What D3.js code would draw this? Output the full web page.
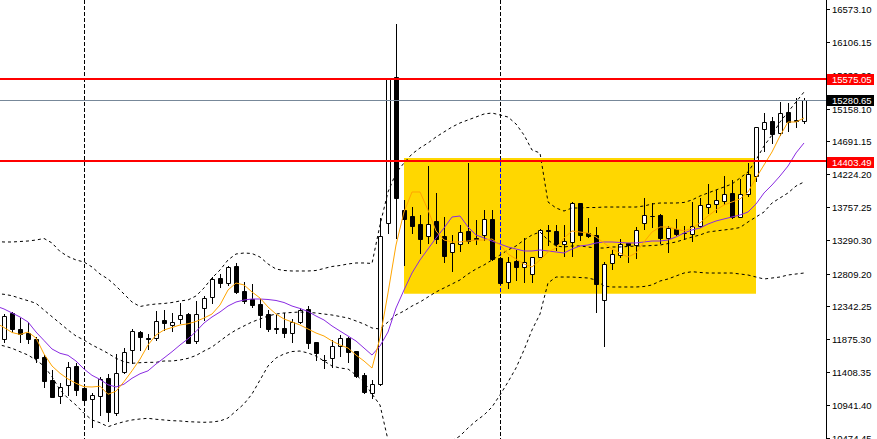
<!DOCTYPE html>
<html>
<head>
<meta charset="utf-8">
<script src="https://cdn.jsdelivr.net/npm/d3@7"></script>
<style>
    html, body { margin: 0; padding: 0; background: #fff; }
    svg { display: block; }
    .price-label { font-family: "Liberation Sans", Arial, sans-serif; font-size: 9.5px; }
</style>
</head>
<body>
<div id="chart"></div>
<script>
// candles, one per bar (bar 0 .. 100)
var opens = [
    11873,12243,12020,11967,11877,11617,11293,11061,11218,11493,
    11175,11019,11061,11322,10823,11403,11721,11973,11887,11892,
    12148,12081,12167,12234,11849,12315,12471,12742,12671,12921,
    12561,12443,12372,12229,12030,12038,11959,12124,12305,11830,
    11583,11603,11782,11892,11707,11365,11113,11232,13525,15613,
    13715,13634,13515,13349,13562,13349,13121,13226,13416,13312,
    13354,13587,13031,12685,12988,12899,12799,13050,13425,13416,
    13226,13255,13810,13383,13359,12426,12956,13074,13238,13216,
    13525,13629,13644,13312,13440,13391,13373,13487,13762,13796,
    13847,13953,13619,13938,14203,14868,14982,14807,15106,14997,
    14987];
var highs = [
    12234,12266,12172,12124,11910,11650,11436,11255,11554,11531,
    11198,11104,11340,11375,11660,11745,12020,11996,11944,12276,
    12290,12243,12386,12252,12423,12494,12765,12803,12917,12956,
    12689,12661,12447,12290,12229,12252,12162,12315,12347,11839,
    11650,11863,11934,11910,11707,11389,11293,13597,15580,16364,
    13857,13762,13644,14341,13961,13619,13359,13501,14388,13572,
    13715,13715,13050,13050,13145,13312,13050,13440,13501,13501,
    13501,13833,13819,13597,13468,12970,13145,13297,13249,13477,
    13890,13810,13658,13487,13582,13491,13833,13881,14085,14000,
    14199,14142,14152,14380,14901,15092,15044,15257,15243,15306,
    15306];
var lows = [
    11835,11981,11839,11816,11546,11198,11050,10962,11084,11084,
    10937,10620,10795,10714,10795,11389,11540,11721,11731,11863,
    12006,11996,12101,11815,11816,12148,12386,12622,12647,12537,
    12386,12337,12053,11991,11959,11910,11839,12110,11745,11578,
    11460,11483,11640,11554,11340,11113,11033,11225,13383,13312,
    12931,13391,13098,13249,13240,12978,12850,13131,13240,13226,
    13287,13003,12661,12600,12718,12694,12685,13041,13216,13145,
    13060,13064,13287,13334,12266,11782,12874,13041,12978,13027,
    13440,13477,13249,13121,13359,13297,13277,13477,13668,13691,
    13796,13605,13611,13914,14132,14559,14665,14783,14844,14901,
    14958];
var closes = [
    12205,12024,11944,11877,11611,11284,11056,11198,11483,11155,
    11009,11076,11303,10842,11397,11697,11996,11902,11877,12130,
    12101,12120,12215,11825,12229,12457,12728,12679,12899,12551,
    12423,12366,12224,12024,12016,11967,12115,12290,11816,11674,
    11578,11782,11892,11697,11355,11127,11237,13349,15575,13881,
    13587,13491,13306,13515,13297,13064,13240,13397,13277,13305,
    13582,13017,12671,12970,12907,12970,13041,13426,13418,13226,
    13273,13810,13359,13344,12661,12946,13088,13230,13216,13426,
    13644,13625,13312,13454,13373,13386,13487,13782,13800,13857,
    13938,13619,13938,14223,14893,14972,14797,15092,14972,14982,
    15280.65];

// indicator lines, bar -1 (just off the left edge) .. 100
var maFast = [
    12105,12041,11970,11942,11977,11892,11664,11493,11389,11308,
    11246,11198,11194,11205,11090,11134,11269,11424,11590,11792,
    11934,12006,12041,12077,12094,12127,12176,12233,12362,12575,
    12675,12647,12547,12461,12333,12233,12162,12120,12077,12020,
    11963,11920,11849,11792,11749,11649,11564,11464,11892,12533,
    13216,13686,13971,13971,13715,13416,13287,13259,13259,13273,
    13287,13287,13302,13216,13088,13017,12946,12903,13003,13117,
    13173,13316,13416,13401,13387,13330,13245,13159,13102,13045,
    13102,13259,13401,13473,13473,13444,13416,13458,13530,13629,
    13715,13786,13829,13871,13971,14170,14356,14541,14769,14968,
    14968,15025];
var maSlow = [
    12347,12305,12248,12191,12120,11977,11856,11735,11674,11645,
    11564,11450,11360,11301,11226,11194,11234,11318,11382,11424,
    11521,11607,11696,11792,11880,11984,12105,12191,12262,12347,
    12404,12433,12447,12447,12440,12426,12397,12347,12312,12269,
    12205,12148,12063,11991,11920,11849,11749,11649,11778,11977,
    12319,12575,12817,13003,13159,13316,13458,13615,13629,13473,
    13359,13316,13273,13230,13188,13159,13131,13131,13145,13131,
    13117,13102,13159,13202,13216,13245,13259,13259,13252,13245,
    13245,13259,13273,13273,13287,13330,13387,13430,13458,13515,
    13558,13587,13615,13643,13686,13800,13957,14071,14199,14341,
    14527,14669];
var bbUpper = [
    13266,13259,13259,13266,13273,13287,13309,13245,13124,13052,
    13003,12974,12903,12803,12732,12632,12518,12404,12340,12362,
    12376,12383,12397,12419,12433,12490,12604,12746,12860,13003,
    13088,13102,13095,13045,12946,12874,12853,12846,12846,12846,
    12853,12882,12910,12924,12946,12960,12960,12953,13501,13971,
    14242,14384,14512,14598,14669,14754,14826,14897,14954,14997,
    15039,15082,15096,15068,15039,14940,14783,14569,14527,13829,
    13743,13700,13743,13743,13750,13750,13757,13757,13757,13757,
    13757,13772,13800,13814,13814,13814,13822,13857,13914,13957,
    14000,14042,14085,14170,14256,14427,14626,14783,14968,15110,
    15253,15395];
var bbMiddle = [
    12525,12514,12494,12457,12423,12386,12290,12195,12101,12006,
    11920,11863,11792,11735,11674,11602,11554,11531,11540,11545,
    11545,11564,11564,11578,11602,11642,11706,11763,11849,11934,
    12006,12063,12120,12162,12205,12233,12248,12255,12262,12255,
    12248,12233,12219,12198,12176,12134,12091,12034,12020,12120,
    12219,12276,12347,12404,12476,12547,12604,12661,12718,12803,
    12874,12931,13003,13074,13145,13202,13287,13359,13401,13287,
    13202,13188,13202,13202,13188,13173,13173,13188,13188,13195,
    13202,13202,13209,13216,13237,13259,13295,13330,13359,13401,
    13416,13430,13444,13465,13544,13615,13686,13814,13886,13957,
    14056,14114];
var bbLower = [
    11806,11778,11745,11696,11649,11578,11493,11340,11151,11033,
    10937,10819,10724,10685,10628,10667,10700,10724,10738,10748,
    10734,10724,10714,10710,10700,10695,10691,10695,10710,10752,
    10852,10952,11094,11293,11493,11607,11664,11699,11706,11678,
    11635,11564,11493,11464,11450,11365,11265,11094,10937,10439,
    10225,10182,10197,10225,10282,10339,10382,10425,10496,10610,
    10710,10795,10909,11080,11265,11464,11721,12006,12233,12675,
    12760,12760,12760,12753,12746,12718,12632,12618,12618,12618,
    12618,12625,12647,12703,12732,12775,12817,12836,12825,12817,
    12817,12817,12817,12803,12789,12760,12732,12746,12760,12789,
    12803,12817];

// price scale labels
var priceTicks = [16573.10, 16106.15, 15639.20, 15158.10, 14691.15, 14224.20, 13757.25,
    13290.30, 12809.20, 12342.25, 11875.30, 11408.35, 10941.40, 10474.45];

// drawn objects
var levelPrices = [15575.05, 14403.49];
var bidPrice = 15280.65;
var separatorBars = [10, 62];
var zoneBars = [50, 94];
var zonePrices = [12522, 14455];

drawChart();

function drawChart() {
    const width = 877;
    const height = 439;
    const plotRight = 826;

    const svg = d3.select("#chart").append("svg")
        .attr("width", width)
        .attr("height", height);

    svg.append("rect").attr("width", width).attr("height", height).attr("fill", "#fff");

    const x = d3.scaleLinear().domain([0, 100]).range([4, 804]);
    const y = d3.scaleLinear().domain([10474.45, 16573.10]).range([437.5, 9.3]);
    const px = i => Math.round(x(i));

    const defs = svg.append("defs");
    defs.append("clipPath").attr("id", "plot-clip")
        .append("rect").attr("x", 0).attr("y", 0).attr("width", plotRight).attr("height", height);

    const zoneX0 = px(zoneBars[0]), zoneX1 = px(zoneBars[1]);
    const zoneY0 = y(zonePrices[1]), zoneY1 = y(zonePrices[0]);
    defs.append("clipPath").attr("id", "zone-clip")
        .append("rect").attr("x", zoneX0).attr("y", zoneY0)
        .attr("width", zoneX1 - zoneX0).attr("height", zoneY1 - zoneY0);

    const plot = svg.append("g").attr("clip-path", "url(#plot-clip)");

    // yellow zone in the background
    plot.append("rect")
        .attr("x", zoneX0).attr("y", zoneY0)
        .attr("width", zoneX1 - zoneX0).attr("height", zoneY1 - zoneY0)
        .attr("fill", "#FFD700");

    // vertical dashed separators (blue where they cross the zone)
    separatorBars.forEach(function(bar) {
        const sx = px(bar) + 0.5;
        plot.append("line")
            .attr("x1", sx).attr("x2", sx).attr("y1", 0).attr("y2", height)
            .attr("stroke", "#000").attr("stroke-dasharray", "4,2");
        plot.append("line")
            .attr("clip-path", "url(#zone-clip)")
            .attr("x1", sx).attr("x2", sx).attr("y1", 0).attr("y2", height)
            .attr("stroke", "#0000FF").attr("stroke-dasharray", "4,2");
    });

    // candles
    const candles = opens.map(function(o, i) {
        return { i: i, o: o, h: highs[i], l: lows[i], c: closes[i] };
    });

    const candleG = plot.append("g");
    candleG.selectAll("line.wick")
        .data(candles)
        .enter()
        .append("line")
        .attr("class", "wick")
        .attr("x1", d => px(d.i) + 0.5)
        .attr("x2", d => px(d.i) + 0.5)
        .attr("y1", d => Math.round(y(d.h)))
        .attr("y2", d => Math.round(y(d.l)) + 1)
        .attr("stroke", "#000");

    candleG.selectAll("path.body")
        .data(candles)
        .enter()
        .append("path")
        .attr("class", "body")
        .attr("d", function(d) {
            const x0 = px(d.i) - 1.5, x1 = px(d.i) + 2.5;
            const yTop = Math.round(y(Math.max(d.o, d.c))) + 0.5;
            const yBot = Math.round(y(Math.min(d.o, d.c))) + 0.5;
            return `M${x0},${yTop}H${x1}V${yBot}H${x0}Z`;
        })
        .attr("fill", d => d.c >= d.o ? "#fff" : "#000")
        .attr("stroke", "#000")
        .attr("stroke-width", 1);

    // indicator lines
    const line = d3.line()
        .x((d, k) => x(k - 1))
        .y(d => y(d));

    const bands = [bbUpper, bbMiddle, bbLower];
    bands.forEach(function(series) {
        plot.append("path")
            .datum(series)
            .attr("d", line)
            .attr("fill", "none")
            .attr("stroke", "#000")
            .attr("stroke-width", 1)
            .attr("stroke-dasharray", "3,3");
    });

    plot.append("path")
        .datum(maSlow)
        .attr("d", line)
        .attr("fill", "none")
        .attr("stroke", "#8A2BE2")
        .attr("stroke-width", 1);

    plot.append("path")
        .datum(maFast)
        .attr("d", line)
        .attr("fill", "none")
        .attr("stroke", "#FFA500")
        .attr("stroke-width", 1);

    // horizontal levels
    const bidY = Math.floor(y(bidPrice)) + 0.5;
    plot.append("line")
        .attr("x1", 0).attr("x2", plotRight).attr("y1", bidY).attr("y2", bidY)
        .attr("stroke", "#778899").attr("stroke-width", 1);

    levelPrices.forEach(function(p) {
        const ly = Math.floor(y(p));
        plot.append("line")
            .attr("x1", 0).attr("x2", plotRight).attr("y1", ly).attr("y2", ly)
            .attr("stroke", "#FF0000").attr("stroke-width", 2);
    });

    // price axis on the right
    const axisG = svg.append("g");
    axisG.append("line")
        .attr("x1", plotRight + 0.5).attr("x2", plotRight + 0.5)
        .attr("y1", 0).attr("y2", height)
        .attr("stroke", "#000");

    priceTicks.forEach(function(t) {
        const ty = Math.round(y(t)) + 0.5;
        axisG.append("line")
            .attr("x1", plotRight).attr("x2", plotRight + 4)
            .attr("y1", ty).attr("y2", ty)
            .attr("stroke", "#000");
        axisG.append("text")
            .attr("class", "price-label")
            .attr("x", 832)
            .attr("y", ty)
            .attr("dy", "0.35em")
            .attr("fill", "#000")
            .text(t.toFixed(2));
    });

    // boxed labels for the levels and bid
    const boxed = levelPrices.map(p => ({ p: p, bg: "#FF0000" }));
    boxed.push({ p: bidPrice, bg: "#000" });
    boxed.forEach(function(b) {
        const by = Math.round(y(b.p));
        axisG.append("rect")
            .attr("x", 827).attr("y", by - 5)
            .attr("width", 47).attr("height", 11)
            .attr("fill", b.bg);
        axisG.append("text")
            .attr("class", "price-label")
            .attr("x", 832)
            .attr("y", by + 0.5)
            .attr("dy", "0.35em")
            .attr("fill", "#fff")
            .text(b.p.toFixed(2));
    });
}
</script>
</body>
</html>
